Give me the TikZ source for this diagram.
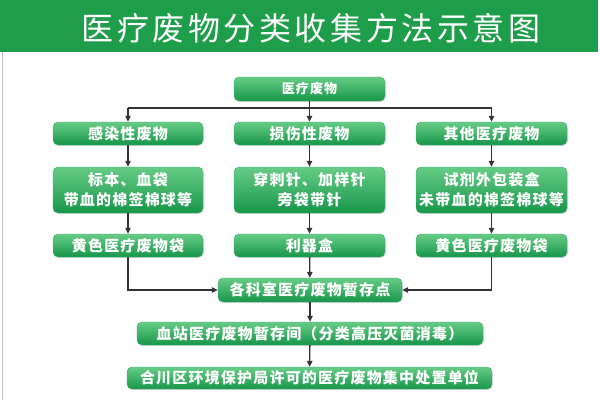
\documentclass[tikz,border=0pt]{standalone}
\usepackage{fontspec}
\usetikzlibrary{arrows.meta,shadows}
\newfontfamily\titlefont{Noto Sans CJK SC}[LetterSpace=11]
\newfontfamily\boxfont{Noto Sans CJK SC}[LetterSpace=8]
\definecolor{bargreen}{HTML}{1E9E4A}
\definecolor{boxtop}{HTML}{66CC85}
\definecolor{boxbot}{HTML}{17964A}
\definecolor{linegray}{HTML}{333333}
\tikzset{
  gbox/.style={rounded corners=5pt, top color=boxtop, bottom color=boxbot,
    draw=boxbot!80!white, line width=0.4pt, text=white, inner sep=0pt,
    font=\boxfont\bfseries\fontsize{15}{20}\selectfont, align=center,
    drop shadow={opacity=0.25, shadow xshift=0.8pt, shadow yshift=-1pt}},
  arr/.style={draw=linegray, line width=1.3pt, -{Triangle[length=6pt,width=5.5pt]}},
  ln/.style={draw=linegray, line width=1.3pt},
}
\begin{document}
\begin{tikzpicture}[x=1pt,y=-1pt]
\useasboundingbox (0,0) rectangle (600,400);
\fill[white] (0,0) rectangle (600,400);
\fill[bargreen] (0,0) rectangle (598,52);
\draw[gray!50, line width=0.8pt] (2,52) -- (2,400);
\node[text=white, font=\titlefont\fontsize{32}{34}\selectfont, inner sep=0pt] (title) at (311,28) {医疗废物分类收集方法示意图};

\node[gbox, minimum width=151pt, minimum height=24pt, font=\boxfont\bfseries\fontsize{13}{16}\selectfont] (top) at (309.5,89) {医疗废物};

\node[gbox, minimum width=150pt, minimum height=23pt] (l1) at (128,133.5) {感染性废物};
\node[gbox, minimum width=151pt, minimum height=23pt] (m1) at (309.5,133.5) {损伤性废物};
\node[gbox, minimum width=151pt, minimum height=23pt] (r1) at (491.5,133.5) {其他医疗废物};

\node[gbox, minimum width=150pt, minimum height=46pt] (l2) at (128,190) {标本、血袋\\带血的棉签棉球等};
\node[gbox, minimum width=151pt, minimum height=46pt] (m2) at (309.5,190) {穿刺针、加样针\\旁袋带针};
\node[gbox, minimum width=151pt, minimum height=46pt] (r2) at (491.5,190) {试剂外包装盒\\未带血的棉签棉球等};

\node[gbox, minimum width=150pt, minimum height=23pt] (l3) at (128,245.5) {黄色医疗废物袋};
\node[gbox, minimum width=151pt, minimum height=23pt] (m3) at (309.5,245.5) {利器盒};
\node[gbox, minimum width=151pt, minimum height=23pt] (r3) at (491.5,245.5) {黄色医疗废物袋};

\node[gbox, minimum width=184pt, minimum height=24pt] (hub) at (310,290) {各科室医疗废物暂存点};
\node[gbox, minimum width=346pt, minimum height=23pt] (xz) at (310,333.5) {血站医疗废物暂存间（分类高压灭菌消毒）};
\node[gbox, minimum width=365pt, minimum height=22pt] (hc) at (309.5,378) {合川区环境保护局许可的医疗废物集中处置单位};

\coordinate (bus) at (0,108);
\draw[ln] (l1.north |- bus) -- (r1.north |- bus);
\draw[arr] (l1.north |- bus) -- (l1.north);
\draw[arr] (r1.north |- bus) -- (r1.north);
\draw[arr] (top.south) -- (m1.north);

\draw[arr] (l1) -- (l2);
\draw[arr] (l2) -- (l3);
\draw[arr] (m1) -- (m2);
\draw[arr] (m2) -- (m3);
\draw[arr] (r1) -- (r2);
\draw[arr] (r2) -- (r3);

\draw[arr] (l3.south) |- (hub.west);
\draw[arr] (r3.south) |- (hub.east);
\draw[arr] (m3) -- (hub);
\draw[arr] (hub) -- (xz);
\draw[arr] (xz) -- (hc);
\end{tikzpicture}
\end{document}
